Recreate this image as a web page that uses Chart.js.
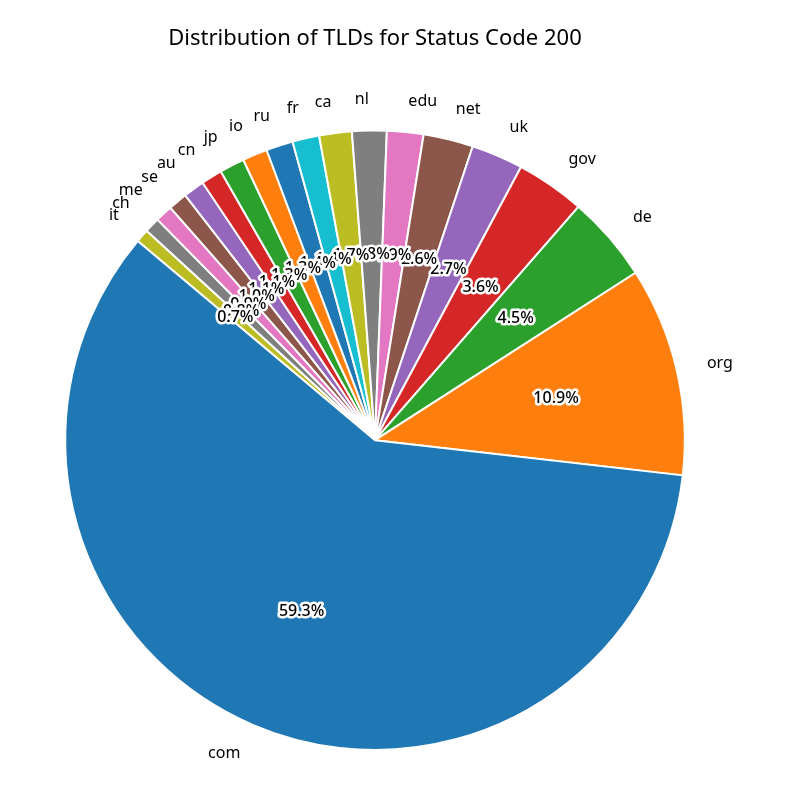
<!DOCTYPE html>
<html>
<head>
<meta charset="utf-8">
<script src="https://cdn.jsdelivr.net/npm/chart.js@4.4.1/dist/chart.umd.min.js"></script>
<style>
  html, body { margin: 0; padding: 0; background: #fff; }
  #wrap { width: 786px; height: 793px; }
</style>
</head>
<body>
<div id="wrap"><canvas id="grafico-tld" width="786" height="793"></canvas></div>
<script>
// dados (ordem do matplotlib, sentido anti-horario a partir de 140 graus)
const tlds = ['com', 'org', 'de', 'gov', 'uk', 'net', 'edu', 'nl', 'ca', 'fr',
              'ru', 'io', 'jp', 'cn', 'au', 'se', 'me', 'ch', 'it'];
const percentuais = [59.3, 10.9, 4.5, 3.6, 2.7, 2.6, 1.9, 1.8, 1.7, 1.4,
                     1.4, 1.3, 1.3, 1.1, 1.1, 1.0, 0.9, 0.8, 0.7];
const cores = ['#1f77b4', '#ff7f0e', '#2ca02c', '#d62728', '#9467bd',
               '#8c564b', '#e377c2', '#7f7f7f', '#bcbd22', '#17becf'];

const fonte = '"Noto Sans", "DejaVu Sans", sans-serif';

// Chart.js desenha no sentido horario, entao invertemos a ordem
const n = tlds.length;
const labelsInv = tlds.slice().reverse();
const valoresInv = percentuais.slice().reverse();
const coresInv = tlds.map((_, i) => cores[i % cores.length]).reverse();

const rotulos = {
    id: 'rotulos',
    afterDatasetsDraw(chart) {
        const ctx = chart.ctx;
        const arcos = chart.getDatasetMeta(0).data;
        ctx.save();
        // desenhar na ordem original para que as sobreposicoes fiquem iguais
        for (let k = 0; k < n; k++) {
            const idx = n - 1 - k;
            const arco = arcos[idx];
            const p = arco.getProps(['x', 'y', 'startAngle', 'endAngle', 'outerRadius'], true);
            const meio = (p.startAngle + p.endAngle) / 2;
            const c = Math.cos(meio), s = Math.sin(meio);

            // nome do TLD
            ctx.font = '16px ' + fonte;
            ctx.fillStyle = '#000';
            ctx.textBaseline = 'middle';
            ctx.textAlign = c > 0 ? 'left' : 'right';
            ctx.fillText(labelsInv[idx], p.x + c * p.outerRadius * 1.1, p.y + s * p.outerRadius * 1.1);

            // porcentagem com contorno branco
            const txt = valoresInv[idx].toFixed(1) + '%';
            const tx = p.x + c * p.outerRadius * 0.6;
            const ty = p.y + s * p.outerRadius * 0.6;
            ctx.font = '500 16px ' + fonte;
            ctx.textAlign = 'center';
            ctx.lineJoin = 'round';
            ctx.lineWidth = 5;
            ctx.strokeStyle = '#fff';
            ctx.strokeText(txt, tx, ty);
            ctx.fillStyle = '#000';
            ctx.fillText(txt, tx, ty);
        }
        ctx.restore();
    }
};

new Chart(document.getElementById('grafico-tld'), {
    type: 'pie',
    data: {
        labels: labelsInv,
        datasets: [{
            data: valoresInv,
            backgroundColor: coresInv,
            borderColor: '#ffffff',
            borderWidth: 2
        }]
    },
    options: {
        responsive: false,
        animation: false,
        rotation: -50,
        layout: {
            padding: { left: 64, right: 100, top: 0, bottom: 42 }
        },
        plugins: {
            legend: { display: false },
            tooltip: { enabled: false },
            title: {
                display: true,
                text: 'Distribution of TLDs for Status Code 200',
                color: '#000',
                font: { family: fonte, size: 22, weight: 'normal' },
                padding: { top: 26, bottom: 77 }
            }
        }
    },
    plugins: [rotulos]
});
</script>
</body>
</html>
